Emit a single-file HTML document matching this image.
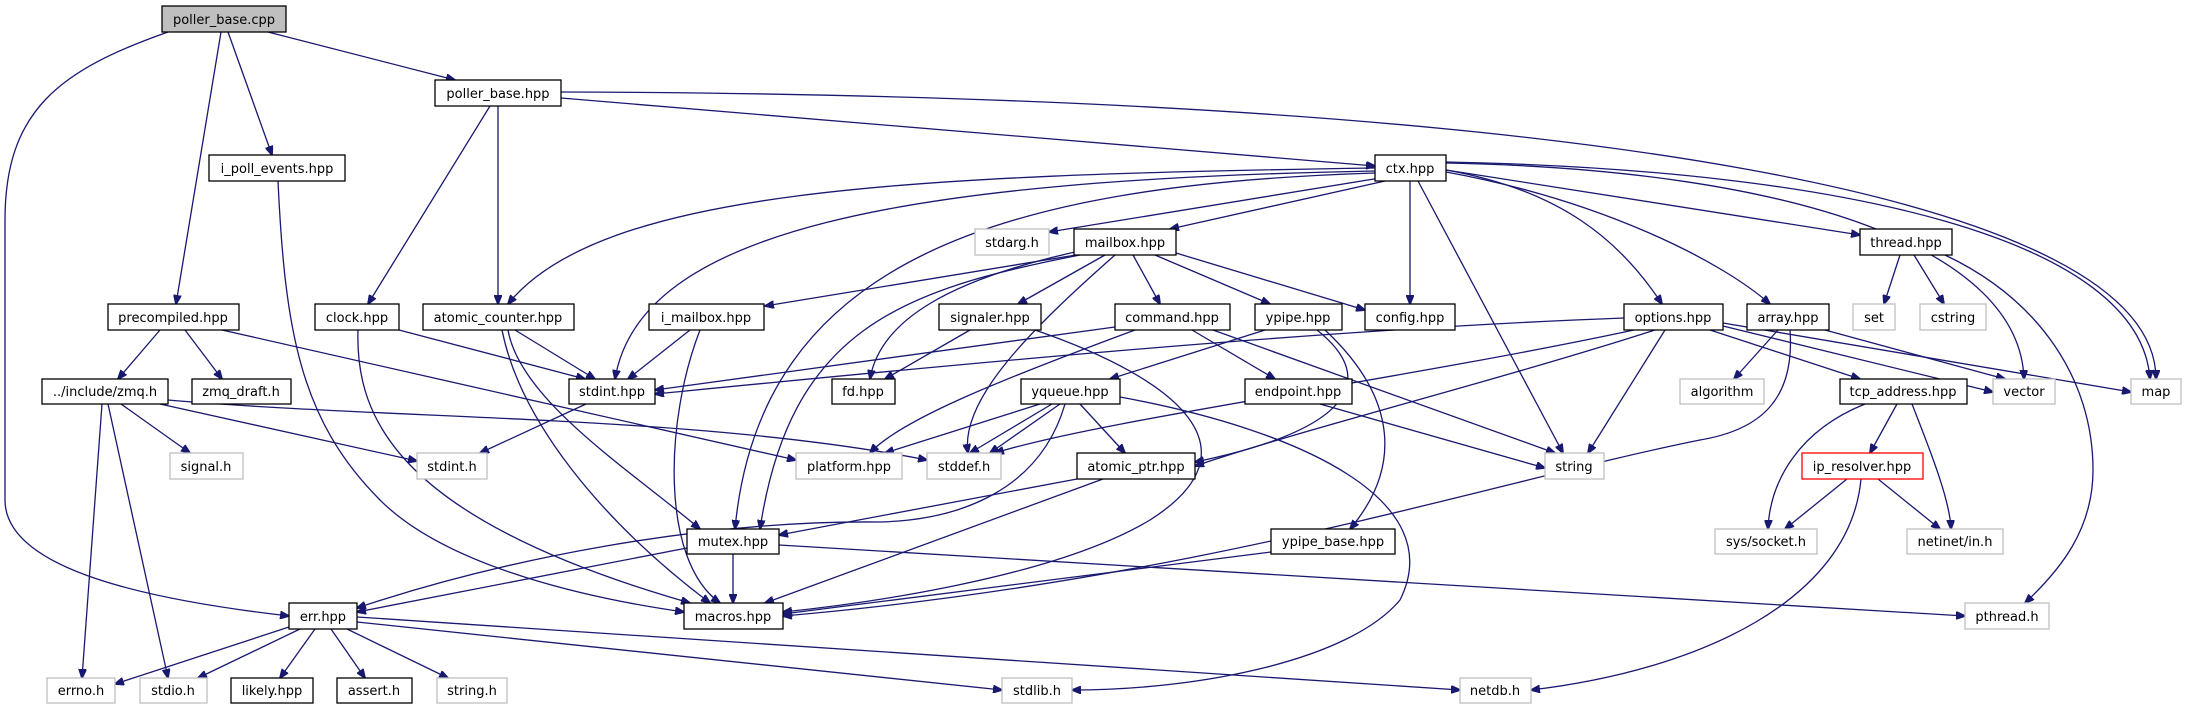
<!DOCTYPE html>
<html><head><meta charset="utf-8"><style>
html,body{margin:0;padding:0;background:#fff}
svg{display:block}
text{font-family:"DejaVu Sans","Liberation Sans",sans-serif;font-size:13px;fill:#000;text-anchor:middle}
.e{fill:none;stroke:#191970;stroke-width:1.3}
.n{fill:#fff;stroke:#000;stroke-width:1.3}
.g{fill:#fff;stroke:#bfbfbf;stroke-width:1.3}
</style></head><body>
<svg width="2187" height="709" viewBox="0 0 2187 709" xmlns="http://www.w3.org/2000/svg">
<defs><marker id="a" markerWidth="10" markerHeight="8" refX="9" refY="4" orient="auto" markerUnits="userSpaceOnUse"><path d="M0,0 L10,4 L0,8 z" fill="#191970" stroke="#191970"/></marker></defs>
<g marker-end="url(#a)">
<path class="e" d="M268,32 L455,80"/>
<path class="e" d="M228,32 L272,155"/>
<path class="e" d="M221,32 L176,304"/>
<path class="e" d="M168,32 C60,70 5,110 5,220 L5,500 C5,570 150,600 289,616"/>
<path class="e" d="M490,106 L368,304"/>
<path class="e" d="M498,106 L498,304"/>
<path class="e" d="M561,98 L1375,166"/>
<path class="e" d="M561,92 C1600,95 2156,200 2156,379"/>
<path class="e" d="M278,181 C285,330 300,420 380,500 C450,570 600,600 684,612"/>
<path class="e" d="M160,330 L118,379"/>
<path class="e" d="M185,330 L222,379"/>
<path class="e" d="M222,330 L796,460"/>
<path class="e" d="M102,404 L82,678"/>
<path class="e" d="M108,404 L168,678"/>
<path class="e" d="M121,404 L190,453"/>
<path class="e" d="M160,404 L417,461"/>
<path class="e" d="M168,400 C400,420 700,415 927,460"/>
<path class="e" d="M399,330 L585,379"/>
<path class="e" d="M358,330 C355,420 400,520 690,603"/>
<path class="e" d="M515,330 L595,379"/>
<path class="e" d="M502,330 C520,420 600,520 710,603"/>
<path class="e" d="M508,330 C520,400 630,470 700,529"/>
<path class="e" d="M690,330 L628,379"/>
<path class="e" d="M700,330 C665,420 660,560 720,603"/>
<path class="e" d="M586,404 L480,453"/>
<path class="e" d="M1375,168 C900,175 600,190 508,304"/>
<path class="e" d="M1375,171 C900,180 640,230 615,379"/>
<path class="e" d="M1375,173 C1000,185 760,260 735,529"/>
<path class="e" d="M1380,178 L1049,232"/>
<path class="e" d="M1385,181 L1170,229"/>
<path class="e" d="M1410,181 L1410,304"/>
<path class="e" d="M1418,181 L1563,453"/>
<path class="e" d="M1446,170 C1560,190 1620,240 1662,304"/>
<path class="e" d="M1446,172 C1600,200 1720,260 1770,304"/>
<path class="e" d="M1446,170 L1860,235"/>
<path class="e" d="M1446,163 C1800,170 2020,250 2024,379"/>
<path class="e" d="M1446,162 C1850,170 2140,240 2150,379"/>
<path class="e" d="M1076,255 L765,306"/>
<path class="e" d="M1105,255 L1018,304"/>
<path class="e" d="M1075,252 C950,280 880,320 870,379"/>
<path class="e" d="M1080,255 C900,290 790,330 760,529"/>
<path class="e" d="M1115,255 C1030,330 960,400 968,453"/>
<path class="e" d="M1133,255 L1160,304"/>
<path class="e" d="M1155,255 L1270,304"/>
<path class="e" d="M1176,253 L1365,310"/>
<path class="e" d="M970,330 L885,379"/>
<path class="e" d="M1035,330 C1180,380 1260,450 1150,520 C1050,580 850,605 783,612"/>
<path class="e" d="M1115,327 L655,390"/>
<path class="e" d="M1135,330 C1000,380 900,420 870,453"/>
<path class="e" d="M1192,330 L1275,379"/>
<path class="e" d="M1213,330 L1555,453"/>
<path class="e" d="M1265,330 L1110,379"/>
<path class="e" d="M1317,330 C1380,380 1350,430 1195,462"/>
<path class="e" d="M1325,330 C1400,400 1400,470 1350,529"/>
<path class="e" d="M1040,404 L885,453"/>
<path class="e" d="M1052,404 L970,453"/>
<path class="e" d="M1060,404 L990,453"/>
<path class="e" d="M1080,404 L1125,453"/>
<path class="e" d="M1065,404 C1040,490 960,520 880,522 C700,520 500,560 357,608"/>
<path class="e" d="M1120,397 C1300,430 1450,500 1400,600 C1350,660 1200,690 1072,690"/>
<path class="e" d="M1320,404 L1545,468"/>
<path class="e" d="M1624,318 C1300,330 900,370 655,394"/>
<path class="e" d="M1634,330 C1400,380 1100,420 995,453"/>
<path class="e" d="M1655,330 C1500,380 1300,430 1195,466"/>
<path class="e" d="M1665,330 L1588,453"/>
<path class="e" d="M1710,330 L1860,379"/>
<path class="e" d="M1723,326 L1993,392"/>
<path class="e" d="M1723,323 L2131,392"/>
<path class="e" d="M1778,330 L1734,379"/>
<path class="e" d="M1825,330 L2005,379"/>
<path class="e" d="M1790,330 C1795,400 1760,430 1700,440 C1500,480 1200,580 783,616"/>
<path class="e" d="M1900,255 L1884,304"/>
<path class="e" d="M1914,255 L1944,304"/>
<path class="e" d="M1945,255 C2040,300 2093,380 2093,470 C2093,530 2060,570 2025,603"/>
<path class="e" d="M1897,404 L1870,453"/>
<path class="e" d="M1865,404 C1800,430 1770,480 1768,529"/>
<path class="e" d="M1912,404 C1930,450 1950,500 1951,529"/>
<path class="e" d="M1847,479 L1785,529"/>
<path class="e" d="M1878,479 L1940,529"/>
<path class="e" d="M1861,479 C1850,600 1700,670 1531,690"/>
<path class="e" d="M1077,479 L779,535"/>
<path class="e" d="M1103,479 L765,603"/>
<path class="e" d="M687,548 L357,612"/>
<path class="e" d="M733,554 L733,603"/>
<path class="e" d="M779,545 L1965,616"/>
<path class="e" d="M1271,552 L783,614"/>
<path class="e" d="M289,627 L115,684"/>
<path class="e" d="M300,629 L198,678"/>
<path class="e" d="M315,629 L280,678"/>
<path class="e" d="M331,629 L365,678"/>
<path class="e" d="M347,629 L448,678"/>
<path class="e" d="M357,622 L1002,690"/>
<path class="e" d="M357,617 L1460,690"/>
</g>
<g>
<rect x="162" y="6" width="124" height="26" fill="#bfbfbf" stroke="#000" stroke-width="1.3"/><text x="224" y="24">poller_base.cpp</text>
<rect class="n" x="435" y="80" width="126" height="26"/><text x="498" y="98">poller_base.hpp</text>
<rect class="n" x="209" y="155" width="136" height="26"/><text x="277" y="173">i_poll_events.hpp</text>
<rect class="n" x="1375" y="155" width="71" height="26"/><text x="1410" y="173">ctx.hpp</text>
<rect class="g" x="975" y="229" width="74" height="26"/><text x="1012" y="247">stdarg.h</text>
<rect class="n" x="1074" y="229" width="102" height="26"/><text x="1125" y="247">mailbox.hpp</text>
<rect class="n" x="1860" y="229" width="92" height="26"/><text x="1906" y="247">thread.hpp</text>
<rect class="n" x="108" y="304" width="131" height="26"/><text x="173" y="322">precompiled.hpp</text>
<rect class="n" x="315" y="304" width="84" height="26"/><text x="357" y="322">clock.hpp</text>
<rect class="n" x="423" y="304" width="151" height="26"/><text x="498" y="322">atomic_counter.hpp</text>
<rect class="n" x="649" y="304" width="115" height="26"/><text x="706" y="322">i_mailbox.hpp</text>
<rect class="n" x="939" y="304" width="102" height="26"/><text x="990" y="322">signaler.hpp</text>
<rect class="n" x="1115" y="304" width="115" height="26"/><text x="1172" y="322">command.hpp</text>
<rect class="n" x="1255" y="304" width="87" height="26"/><text x="1298" y="322">ypipe.hpp</text>
<rect class="n" x="1365" y="304" width="90" height="26"/><text x="1410" y="322">config.hpp</text>
<rect class="n" x="1624" y="304" width="99" height="26"/><text x="1673" y="322">options.hpp</text>
<rect class="n" x="1747" y="304" width="82" height="26"/><text x="1788" y="322">array.hpp</text>
<rect class="g" x="1853" y="304" width="42" height="26"/><text x="1874" y="322">set</text>
<rect class="g" x="1920" y="304" width="66" height="26"/><text x="1953" y="322">cstring</text>
<rect class="n" x="42" y="379" width="126" height="25"/><text x="105" y="396">../include/zmq.h</text>
<rect class="n" x="192" y="379" width="99" height="25"/><text x="241" y="396">zmq_draft.h</text>
<rect class="n" x="569" y="379" width="86" height="25"/><text x="612" y="396">stdint.hpp</text>
<rect class="n" x="832" y="379" width="63" height="25"/><text x="863" y="396">fd.hpp</text>
<rect class="n" x="1021" y="379" width="99" height="25"/><text x="1070" y="396">yqueue.hpp</text>
<rect class="n" x="1245" y="379" width="107" height="25"/><text x="1298" y="396">endpoint.hpp</text>
<rect class="g" x="1680" y="379" width="84" height="25"/><text x="1722" y="396">algorithm</text>
<rect class="n" x="1840" y="379" width="127" height="25"/><text x="1903" y="396">tcp_address.hpp</text>
<rect class="g" x="1993" y="379" width="62" height="25"/><text x="2024" y="396">vector</text>
<rect class="g" x="2131" y="379" width="50" height="25"/><text x="2156" y="396">map</text>
<rect class="g" x="170" y="453" width="73" height="26"/><text x="206" y="471">signal.h</text>
<rect class="g" x="417" y="453" width="70" height="26"/><text x="452" y="471">stdint.h</text>
<rect class="g" x="796" y="453" width="106" height="26"/><text x="849" y="471">platform.hpp</text>
<rect class="g" x="927" y="453" width="74" height="26"/><text x="964" y="471">stddef.h</text>
<rect class="n" x="1077" y="453" width="118" height="26"/><text x="1136" y="471">atomic_ptr.hpp</text>
<rect class="g" x="1545" y="453" width="59" height="26"/><text x="1574" y="471">string</text>
<rect x="1802" y="453" width="121" height="26" fill="#fff" stroke="#ff0000" stroke-width="1.3"/><text x="1862" y="471">ip_resolver.hpp</text>
<rect class="n" x="687" y="529" width="92" height="25"/><text x="733" y="546">mutex.hpp</text>
<rect class="n" x="1271" y="529" width="124" height="25"/><text x="1333" y="546">ypipe_base.hpp</text>
<rect class="g" x="1715" y="529" width="102" height="25"/><text x="1766" y="546">sys/socket.h</text>
<rect class="g" x="1907" y="529" width="96" height="25"/><text x="1955" y="546">netinet/in.h</text>
<rect class="n" x="289" y="603" width="68" height="26"/><text x="323" y="621">err.hpp</text>
<rect class="n" x="684" y="603" width="99" height="26"/><text x="733" y="621">macros.hpp</text>
<rect class="g" x="1965" y="603" width="84" height="26"/><text x="2007" y="621">pthread.h</text>
<rect class="g" x="47" y="678" width="68" height="25"/><text x="81" y="695">errno.h</text>
<rect class="g" x="140" y="678" width="67" height="25"/><text x="173" y="695">stdio.h</text>
<rect class="n" x="231" y="678" width="82" height="25"/><text x="272" y="695">likely.hpp</text>
<rect class="n" x="337" y="678" width="75" height="25"/><text x="374" y="695">assert.h</text>
<rect class="g" x="437" y="678" width="70" height="25"/><text x="472" y="695">string.h</text>
<rect class="g" x="1002" y="678" width="70" height="25"/><text x="1037" y="695">stdlib.h</text>
<rect class="g" x="1460" y="678" width="71" height="25"/><text x="1495" y="695">netdb.h</text>
</g>
</svg>
</body></html>
